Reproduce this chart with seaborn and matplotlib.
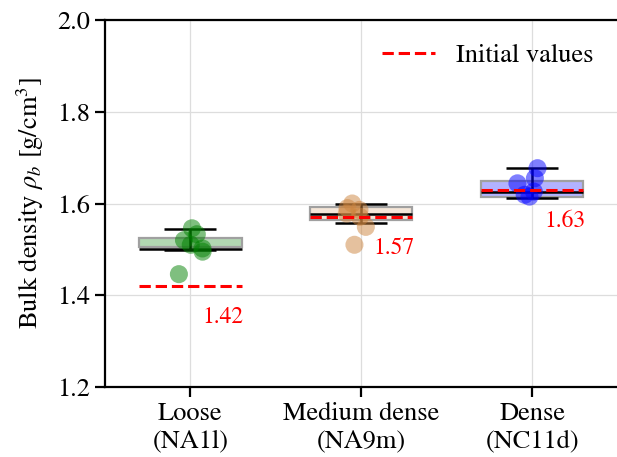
import numpy as np
import pandas as pd
import matplotlib
matplotlib.use("Agg")
import matplotlib.pyplot as plt
import seaborn as sns

# ---- data ----
categories = ["Loose\n(NA1l)", "Medium dense\n(NA9m)", "Dense\n(NC11d)"]
loose_vals = [1.546, 1.533, 1.520, 1.510, 1.502, 1.495, 1.446]
medium_vals = [1.600, 1.590, 1.586, 1.578, 1.571, 1.549, 1.510]
dense_vals = [1.677, 1.655, 1.644, 1.626, 1.619, 1.615]
box_low = [1.505, 1.564, 1.615]
box_high = [1.524, 1.593, 1.648]
center_line = [1.501, 1.577, 1.625]
err_low = [1.498, 1.557, 1.613]
err_high = [1.544, 1.600, 1.677]
initial_values = [1.42, 1.57, 1.63]
y_ticks = [1.2, 1.4, 1.6, 1.8, 2.0]

point_colors = ["green", "peru", "blue"]
box_colors = [(0.0, 0.5, 0.0, 0.3), (0.804, 0.522, 0.247, 0.2), (0.0, 0.0, 1.0, 0.3)]

sns.set_style("white")
plt.rcParams["font.family"] = ["STIXGeneral", "Liberation Serif", "DejaVu Serif"]
plt.rcParams["mathtext.fontset"] = "stix"
plt.rcParams["font.size"] = 19
for k in ["text.color", "axes.labelcolor", "xtick.color", "ytick.color"]:
    plt.rcParams[k] = "black"

df = pd.DataFrame({
    "cat": [categories[0]] * len(loose_vals) + [categories[1]] * len(medium_vals)
           + [categories[2]] * len(dense_vals),
    "val": loose_vals + medium_vals + dense_vals,
})

fig = plt.figure(figsize=(6.17, 4.57), dpi=100)
ax = fig.add_axes([105 / 617, 1 - 387 / 457, (617.5 - 105) / 617, (387 - 20) / 457])

xs = np.arange(len(categories))
bw = 0.3

ax.bar(xs, np.array(box_high) - np.array(box_low), bottom=box_low, width=2 * bw,
       color=box_colors, edgecolor="#a0a0a0", linewidth=1.6, zorder=2)
ax.hlines(center_line, xs - bw, xs + bw, colors="black", linewidth=1.8, zorder=3)
ax.errorbar(xs, center_line,
            yerr=[np.array(center_line) - np.array(err_low),
                  np.array(err_high) - np.array(center_line)],
            fmt="none", ecolor="black", elinewidth=1.8, capsize=19, capthick=1.8, zorder=3)

np.random.seed(3)
sns.stripplot(data=df, x="cat", y="val", hue="cat", order=categories,
              palette=point_colors, jitter=0.09, size=13, alpha=0.5,
              linewidth=0, legend=False, ax=ax, zorder=4)

for i, v in enumerate(initial_values):
    ax.plot([xs[i] - bw, xs[i] + bw], [v, v], color="red", linestyle="--",
            linewidth=2.2, zorder=5, label="Initial values" if i == 0 else None)
    ax.text(xs[i] + 0.19, v - 0.068, f"{v:.2f}", color="red", fontsize=17,
            ha="center", va="center", zorder=6)

ax.set_xlim(-0.5, 2.5)
ax.set_ylim(1.2, 2.0)
ax.set_yticks(y_ticks)
ax.set_yticklabels([f"{t:.1f}" for t in y_ticks])
ax.set_xticks(xs)
ax.set_xticklabels(categories)
ax.set_xlabel("")
ax.set_ylabel(r"Bulk density $\rho_b$ [g/cm$^3$]", fontsize=19, labelpad=8)

ax.grid(True, color="#dddddd", linewidth=0.9, zorder=0)
ax.set_axisbelow(True)
for s in ["left", "top", "bottom"]:
    ax.spines[s].set_color("black")
    ax.spines[s].set_linewidth(1.6)
ax.spines["right"].set_visible(False)
ax.tick_params(axis="both", which="major", length=7, width=1.6, labelsize=19,
               direction="out", color="black", left=True, bottom=True)

ax.legend(loc="upper right", frameon=False, fontsize=19)

fig.savefig("out.png", dpi=100)
